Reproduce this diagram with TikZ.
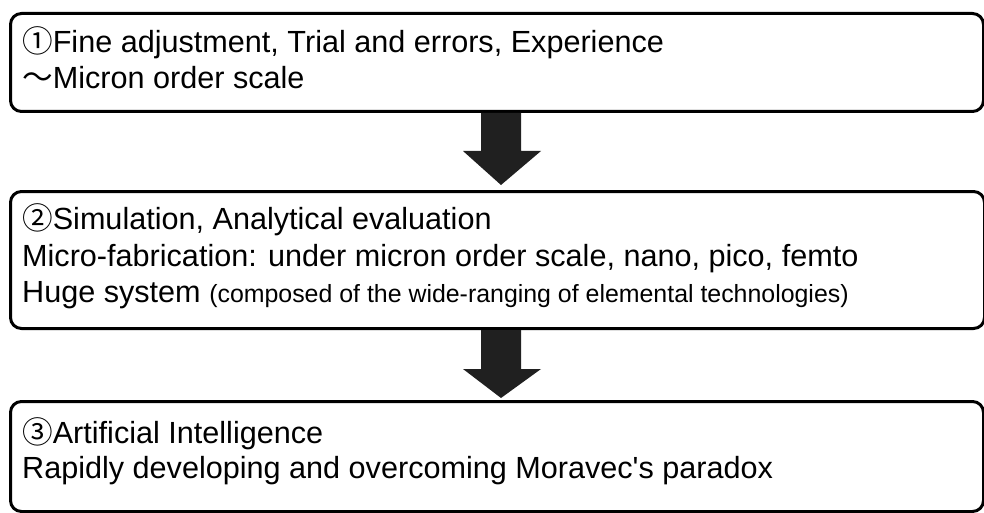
\documentclass[tikz,border=0pt]{standalone}
\usepackage{fontspec}
\setmainfont{Liberation Sans}
\newfontfamily\cjk{Noto Sans CJK JP}
\usetikzlibrary{calc}
\definecolor{arrowc}{HTML}{202020}
\newcommand\mysmallsz{\fontsize{24.9}{30}\selectfont}
\begin{document}
\begin{tikzpicture}[x=1pt,y=-1pt,
  box/.style={draw=black, line width=3pt, rounded corners=11pt, fill=white, anchor=north west, inner sep=0pt},
  txt/.style={anchor=base west, inner sep=0pt, font=\fontsize{30.6}{36}\selectfont},
  blockarrow/.style={fill=arrowc, draw=none}]
\useasboundingbox (0,0) rectangle (984,513);
% boxes
\node[box, minimum width=973pt, minimum height=98pt] (b1) at (9,12) {};
\node[box, minimum width=974pt, minimum height=137pt] (b2) at (9,190) {};
\node[box, minimum width=973pt, minimum height=110pt] (b3) at (9,400) {};
% texts
\node[txt] (t11) at (22,53) {{\cjk ①}Fine adjustment, Trial and errors, Experience};
\node[txt] (t12) at (22,89) {{\cjk ～}Micron order scale};
\node[txt] (t21) at (22,229) {{\cjk ②}Simulation, Analytical evaluation};
\node[txt] (t22) at (22,266) {Micro-fabrication: under micron order scale, nano, pico, femto};
\node[txt] (t23) at (22,302) {Huge system {\mysmallsz(composed of the wide-ranging of elemental technologies)}};
% block arrows
\fill[blockarrow] ($(b1.south west)+(472,0)$) -- ++(0,38) -- ++(-18,0)
  -- ($(b2.north west)+(492,-5)$) -- ($(b1.south west)+(532,38)$) -- ++(-20,0) -- ++(0,-38) -- cycle;
\fill[blockarrow] ($(b2.south west)+(472,0)$) -- ++(0,39) -- ++(-18,0)
  -- ($(b3.north west)+(492,-2)$) -- ($(b2.south west)+(532,39)$) -- ++(-20,0) -- ++(0,-39) -- cycle;
\node[txt] (t31) at (22,443) {{\cjk ③}Artificial Intelligence};
\node[txt] (t32) at (22,478) {Rapidly developing and overcoming Moravec\textquotesingle s paradox};
\end{tikzpicture}
\end{document}
